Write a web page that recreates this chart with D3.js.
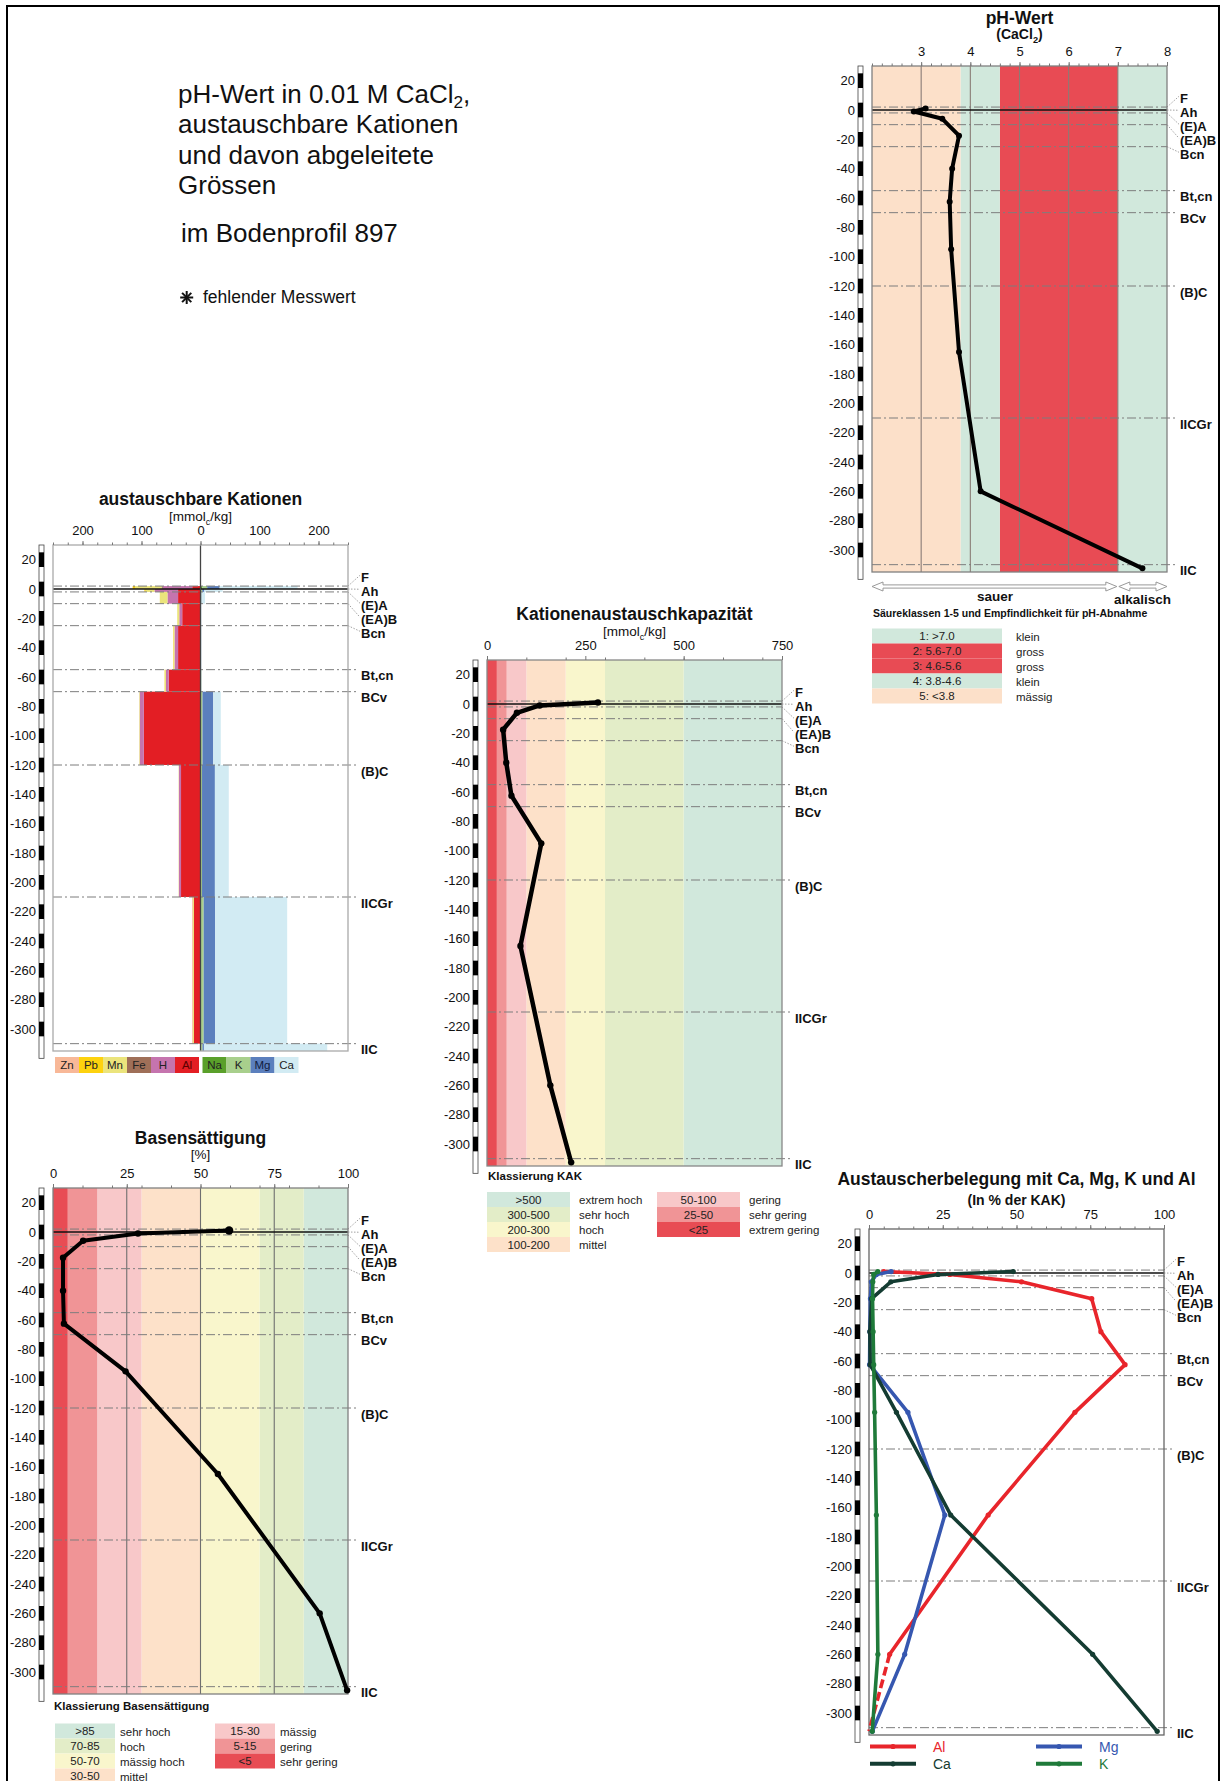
<!DOCTYPE html>
<html>
<head>
<meta charset="utf-8">
<script src="https://cdn.jsdelivr.net/npm/d3@7"></script>
<style>
  body { margin: 0; background: #fff; }
  svg { display: block; font-family: 'Liberation Sans', Arial, Helvetica, sans-serif; }
</style>
</head>
<body>
<div id="chart"></div>
<script>
// horizons of soil profile 897 (depth in cm, surface = 0)
let horizons = ['F', 'Ah', '(E)A', '(EA)B', 'Bcn', 'Bt,cn', 'BCv', '(B)C', 'IICGr', 'IIC'];
let horizon_top = [2, 0, -2, -10, -25, -55, -70, -120, -210, -310];
let horizon_bottom = [0, -2, -10, -25, -55, -70, -120, -210, -310, -315];
let depth_ticks = [20, 0, -20, -40, -60, -80, -100, -120, -140, -160, -180, -200, -220, -240, -260, -280, -300];

// measured values per horizon
let ph_values = [3.09, 2.85, 3.43, 3.77, 3.63, 3.58, 3.61, 3.77, 4.21, 7.5];
let kak_values = [282, 134, 76, 41, 49, 62, 138, 85, 161, 214];
let base_saturation = [59.7, 28.8, 10.2, 3.4, 3.4, 3.7, 24.6, 55.9, 90.4, 99.7];

// exchangeable cations [mmol_c/kg]
let cat_zn = [0, 0, 0, 0, 0, 0, 0, 0, 1.2, 0];
let cat_pb = [4, 2, 0, 0, 0.5, 0.5, 0, 0, 0, 0];
let cat_mn = [45, 15, 13, 3.5, 2, 2, 1, 0.5, 2.2, 0];
let cat_fe = [2, 0, 0, 0, 0, 0, 0, 0, 0, 0];
let cat_h = [50, 40, 18, 5, 6, 4.5, 7, 3.6, 0, 0];
let cat_al = [14, 38, 38, 31, 38, 54, 96, 33, 11, 0];
let cat_na = [3, 1, 0.5, 0.3, 0.3, 0.3, 0.6, 0.5, 0.7, 1];
let cat_k = [8.5, 2, 1, 0.5, 0.6, 1, 2.8, 2.1, 4.7, 2.4];
let cat_mg = [21, 3.5, 0.6, 0.2, 0.2, 0.2, 18.2, 21.8, 19.5, 2.4];
let cat_ca = [132, 31, 5.6, 0.4, 0.3, 0.4, 12.8, 23.5, 122, 209];

// exchanger occupation [% of KAK], null = missing value
let pct_al = [5, 27.4, 51.7, 75.5, 78.6, 86.8, 69.8, 40.4, 7, null];
let pct_ca = [48.9, 23.4, 7.4, 0.9, 0.3, 0.4, 9.3, 27.7, 75.8, 97.7];
let pct_mg = [7.5, 2.5, 0.8, 0.5, 0.3, 0.2, 13.2, 25.7, 12.1, 1.1];
let pct_k = [3.0, 1.6, 1.3, 1.2, 1.4, 1.6, 1.9, 2.5, 3.0, 1.1];

// classes
let ph_class_from = [7.0, 5.6, 4.6, 3.8, 2];
let ph_class_to = [8, 7.0, 5.6, 4.6, 3.8];
let ph_class_labels = ['1:  >7.0', '2:  5.6-7.0', '3:  4.6-5.6', '4:  3.8-4.6', '5:  <3.8'];
let ph_class_names = ['klein', 'gross', 'gross', 'klein', 'mässig'];

let kak_class_from = [500, 300, 200, 100, 50, 25, 0];
let kak_class_to = [750, 500, 300, 200, 100, 50, 25];
let kak_class_labels = ['>500', '300-500', '200-300', '100-200', '50-100', '25-50', '<25'];
let kak_class_names = ['extrem hoch', 'sehr hoch', 'hoch', 'mittel', 'gering', 'sehr gering', 'extrem gering'];

let bs_class_from = [85, 70, 50, 30, 15, 5, 0];
let bs_class_to = [100, 85, 70, 50, 30, 15, 5];
let bs_class_labels = ['>85', '70-85', '50-70', '30-50', '15-30', '5-15', '<5'];
let bs_class_names = ['sehr hoch', 'hoch', 'mässig hoch', 'mittel', 'mässig', 'gering', 'sehr gering'];

// axis tick labels
let ph_ticks = [3, 4, 5, 6, 7, 8];
let cat_ticks = [-200, -100, 0, 100, 200];
let kak_ticks = [0, 250, 500, 750];
let pct_ticks = [0, 25, 50, 75, 100];

// styles
let class_colors = ['#d1e8dc', '#e3edc8', '#f9f6cc', '#fde1c9', '#f8c8c9', '#f09496', '#e84c54'];
let ph_colors = ['#d1e8dc', '#e84b54', '#e84b54', '#d1e8dc', '#fce0c9'];
let cat_keys = ['Al', 'H', 'Fe', 'Mn', 'Pb', 'Zn', 'Na', 'K', 'Mg', 'Ca'];
let cat_colors = {
  Zn: '#f8b898', Pb: '#fdd20e', Mn: '#ebe47c', Fe: '#9f6f58', H: '#c574ae',
  Al: '#e31e24', Na: '#5aa02a', K: '#a8cf8c', Mg: '#5b7fbd', Ca: '#d2ebf3'
};

let plot_width = 295;
let plot_height = 506;
let sample_depth = horizon_top.map((d, i) => (d + horizon_bottom[i]) / 2);

let svg = d3
  .select('#chart')
  .append('svg')
  .attr('width', 1220)
  .attr('height', 1781);

//outer frame
svg
  .append('rect')
  .attr('x', 7)
  .attr('y', 6)
  .attr('width', 1212)
  .attr('height', 1800)
  .attr('fill', 'none')
  .attr('stroke', '#000')
  .attr('stroke-width', 2);

// text with subscripts, parts starting with "_" are lowered
function rich_text(sel, parts, size, drop) {
  let shift = 0;
  let d = drop || 0.3;
  parts.forEach(p => {
    let sub = p[0] === '_';
    let t = sel.append('tspan').text(sub ? p.slice(1) : p);
    if (sub) {
      t.attr('font-size', size * 0.66).attr('dy', size * d);
      shift = size * d;
    } else if (shift) {
      t.attr('dy', -shift);
      shift = 0;
    }
  });
  return sel;
}

//main title
let title_lines = [
  ['pH-Wert in 0.01 M CaCl', '_2', ','],
  ['austauschbare Kationen'],
  ['und davon abgeleitete'],
  ['Grössen']
];
title_lines.forEach((l, i) => {
  rich_text(
    svg
      .append('text')
      .attr('x', 178)
      .attr('y', 103 + i * 30.3)
      .attr('font-size', 26)
      .attr('fill', '#111'),
    l,
    26,
    0.2
  );
});
svg
  .append('text')
  .attr('x', 181)
  .attr('y', 242)
  .attr('font-size', 26)
  .attr('fill', '#111')
  .text('im Bodenprofil 897');

//missing value star
[0, 45, 90, 135].forEach(a => {
  let r = 6.5;
  let c = Math.cos((a * Math.PI) / 180) * r;
  let s = Math.sin((a * Math.PI) / 180) * r;
  svg
    .append('line')
    .attr('x1', 186.7 - c)
    .attr('y1', 297.5 - s)
    .attr('x2', 186.7 + c)
    .attr('y2', 297.5 + s)
    .attr('stroke', '#111')
    .attr('stroke-width', 2);
});
svg
  .append('text')
  .attr('x', 203)
  .attr('y', 303)
  .attr('font-size', 17.5)
  .attr('fill', '#111')
  .text('fehlender Messwert');

function make_panel(left, top, domain) {
  let x = d3.scaleLinear().domain(domain).range([left, left + plot_width]);
  let y = d3.scaleLinear().domain([30, -315]).range([top, top + plot_height]);
  return {
    g: svg.append('g'),
    x: x,
    y: y,
    left: left,
    top: top,
    right: left + plot_width,
    bottom: top + plot_height
  };
}

function add_titles(pn, title, title_dy, sub, sub_dy, sub_bold) {
  let cx = (pn.left + pn.right) / 2;
  pn.g
    .append('text')
    .attr('x', cx)
    .attr('y', pn.top - title_dy)
    .attr('text-anchor', 'middle')
    .attr('font-size', 17.5)
    .attr('font-weight', 'bold')
    .attr('fill', '#111')
    .text(title);
  rich_text(
    pn.g
      .append('text')
      .attr('x', cx)
      .attr('y', pn.top - sub_dy)
      .attr('text-anchor', 'middle')
      .attr('font-size', sub_bold ? 14 : 13.5)
      .attr('font-weight', sub_bold ? 'bold' : 'normal')
      .attr('fill', '#111'),
    sub,
    sub_bold ? 14 : 13.5
  );
}

function draw_bands(pn, from, to, colors) {
  pn.g
    .append('g')
    .selectAll('rect')
    .data(from)
    .enter()
    .append('rect')
    .attr('x', d => pn.x(d))
    .attr('y', pn.top)
    .attr('width', (d, i) => pn.x(to[i]) - pn.x(d))
    .attr('height', plot_height)
    .attr('fill', (d, i) => colors[i]);
}

function draw_grid(pn, values, color) {
  pn.g
    .append('g')
    .selectAll('line')
    .data(values)
    .enter()
    .append('line')
    .attr('x1', d => pn.x(d))
    .attr('x2', d => pn.x(d))
    .attr('y1', pn.top)
    .attr('y2', pn.bottom)
    .attr('stroke', color)
    .attr('stroke-width', 1.1);
}

// push crowded labels apart around the mean of their ideal positions
function spread_labels(ideal, gap) {
  let groups = [];
  ideal.forEach(v => {
    groups.push({ sum: v, n: 1 });
    while (groups.length > 1) {
      let b = groups[groups.length - 1];
      let a = groups[groups.length - 2];
      let a_end = a.sum / a.n + ((a.n - 1) * gap) / 2;
      let b_start = b.sum / b.n - ((b.n - 1) * gap) / 2;
      if (b_start - a_end >= gap) break;
      groups.pop();
      a.sum += b.sum;
      a.n += b.n;
    }
  });
  let out = [];
  groups.forEach(gr => {
    let c = gr.sum / gr.n;
    for (let k = 0; k < gr.n; k++) out.push(c + (k - (gr.n - 1) / 2) * gap);
  });
  return out;
}

function draw_horizons(pn) {
  let ideal = horizon_top.map(d => pn.y(d) + 6);
  let pos = spread_labels(ideal, 14);
  let hg = pn.g.append('g');
  horizon_top.forEach((d, i) => {
    let ly = pn.y(d);
    let moved = Math.abs(pos[i] - ideal[i]) > 1.5;
    hg.append('line')
      .attr('x1', pn.left)
      .attr('x2', moved || d === 0 ? pn.right : pn.right + 11)
      .attr('y1', ly)
      .attr('y2', ly)
      .attr('stroke', d === 0 ? '#111' : '#7d7d7d')
      .attr('stroke-width', d === 0 ? 1.4 : 1)
      .attr('stroke-dasharray', d === 0 ? null : '9,3,2,3');
    if (moved) {
      hg.append('line')
        .attr('x1', pn.right)
        .attr('y1', ly)
        .attr('x2', pn.right + 12)
        .attr('y2', pos[i] - 2)
        .attr('stroke', '#8a8a8a')
        .attr('stroke-width', 0.8)
        .attr('stroke-dasharray', '1.5,1.5');
    }
    hg.append('text')
      .attr('x', pn.right + 13)
      .attr('y', pos[i])
      .attr('dy', '0.36em')
      .attr('font-size', 13)
      .attr('font-weight', 'bold')
      .attr('fill', '#111')
      .text(horizons[i]);
  });
}

function draw_frame(pn, ticks, minor, fmt, border) {
  pn.g
    .append('rect')
    .attr('x', pn.left)
    .attr('y', pn.top)
    .attr('width', plot_width)
    .attr('height', plot_height)
    .attr('fill', 'none')
    .attr('stroke', border)
    .attr('stroke-width', 1.3);

  let minor_axis = d3
    .axisTop(pn.x)
    .tickValues(minor)
    .tickSize(2.5)
    .tickSizeOuter(0)
    .tickFormat('');
  let major_axis = d3
    .axisTop(pn.x)
    .tickValues(ticks)
    .tickSize(4)
    .tickSizeOuter(0)
    .tickPadding(6)
    .tickFormat(fmt);
  let ag = pn.g.append('g');
  ag.append('g')
    .attr('transform', 'translate(0,' + pn.top + ')')
    .call(minor_axis);
  ag.append('g')
    .attr('transform', 'translate(0,' + pn.top + ')')
    .call(major_axis);
  ag.selectAll('.domain').remove();
  ag.selectAll('line').attr('stroke', '#777');
  ag.selectAll('text')
    .attr('font-size', 13)
    .attr('font-family', null)
    .attr('fill', '#111');

  //depth ruler
  let rx = pn.left - 14;
  pn.g
    .append('rect')
    .attr('x', rx)
    .attr('y', pn.y(30))
    .attr('width', 5)
    .attr('height', pn.y(-320) - pn.y(30))
    .attr('fill', '#fff')
    .attr('stroke', '#444')
    .attr('stroke-width', 0.8);
  pn.g
    .append('g')
    .selectAll('rect')
    .data(depth_ticks)
    .enter()
    .append('rect')
    .attr('x', rx)
    .attr('y', d => pn.y(d + 5))
    .attr('width', 5)
    .attr('height', d => pn.y(d - 5) - pn.y(d + 5))
    .attr('fill', '#000');
  pn.g
    .append('g')
    .selectAll('text')
    .data(depth_ticks)
    .enter()
    .append('text')
    .attr('x', pn.left - 17)
    .attr('y', d => pn.y(d))
    .attr('dy', '0.36em')
    .attr('text-anchor', 'end')
    .attr('font-size', 13)
    .attr('fill', '#111')
    .text(d => d);
}

function draw_profile(pn, values, width, r) {
  let pts = values.map((v, i) => ({ v: v, depth: sample_depth[i] }));
  let line = d3
    .line()
    .x(d => pn.x(d.v))
    .y(d => pn.y(d.depth));
  pn.g
    .append('path')
    .datum(pts)
    .attr('d', line)
    .attr('fill', 'none')
    .attr('stroke', '#000')
    .attr('stroke-width', width)
    .attr('stroke-linejoin', 'round')
    .attr('stroke-linecap', 'round');
  pn.g
    .append('g')
    .selectAll('circle')
    .data(pts)
    .enter()
    .append('circle')
    .attr('cx', d => pn.x(d.v))
    .attr('cy', d => pn.y(d.depth))
    .attr('r', r)
    .attr('fill', '#000');
}

function draw_class_legend(pn, labels, names, colors, opt) {
  let lg = pn.g.append('g');
  lg.append('text')
    .attr('x', pn.left + 1)
    .attr('y', pn.bottom + opt.title_dy)
    .attr('font-size', opt.title_size)
    .attr('font-weight', 'bold')
    .attr('fill', '#111')
    .text(opt.title);
  labels.forEach((l, i) => {
    let col = i < opt.per_col ? 0 : 1;
    let row = col === 0 ? i : i - opt.per_col;
    let bx = pn.left + opt.box_x + col * opt.col_step;
    let by = pn.bottom + opt.rows_dy + row * 15;
    lg.append('rect')
      .attr('x', bx)
      .attr('y', by)
      .attr('width', opt.box_w)
      .attr('height', 15)
      .attr('fill', colors[i]);
    lg.append('text')
      .attr('x', bx + opt.box_w / 2)
      .attr('y', by + 11.5)
      .attr('text-anchor', 'middle')
      .attr('font-size', 11.5)
      .attr('fill', '#222')
      .text(l);
    lg.append('text')
      .attr('x', bx + opt.name_dx)
      .attr('y', by + 12)
      .attr('font-size', 11.5)
      .attr('fill', '#222')
      .text(names[i]);
  });
}

//pH panel
let ph = make_panel(872, 66, [2, 8]);
draw_bands(ph, ph_class_from, ph_class_to, ph_colors);
draw_grid(ph, ph_ticks.slice(0, 5), '#8a7c76');
draw_horizons(ph);
draw_frame(ph, ph_ticks, d3.range(2, 8.01, 0.2), d => d, '#808080');
add_titles(ph, 'pH-Wert', 42.5, ['(CaCl', '_2', ')'], 27, true);
draw_profile(ph, ph_values, 4, 3);

//acid / alkaline arrows
function hollow_arrow(x1, x2, y) {
  let p = d3.path();
  p.moveTo(x1, y);
  p.lineTo(x1 + 11, y - 4.5);
  p.lineTo(x1 + 11, y - 1.6);
  p.lineTo(x2 - 11, y - 1.6);
  p.lineTo(x2 - 11, y - 4.5);
  p.lineTo(x2, y);
  p.lineTo(x2 - 11, y + 4.5);
  p.lineTo(x2 - 11, y + 1.6);
  p.lineTo(x1 + 11, y + 1.6);
  p.lineTo(x1 + 11, y + 4.5);
  p.closePath();
  ph.g
    .append('path')
    .attr('d', p.toString())
    .attr('fill', '#fff')
    .attr('stroke', '#999')
    .attr('stroke-width', 1);
}
hollow_arrow(ph.x(2), ph.x(7) - 1, ph.bottom + 14.5);
hollow_arrow(ph.x(7) + 1, ph.x(8), ph.bottom + 14.5);
ph.g
  .append('text')
  .attr('x', ph.x(4.5))
  .attr('y', ph.bottom + 29)
  .attr('text-anchor', 'middle')
  .attr('font-size', 13.5)
  .attr('font-weight', 'bold')
  .attr('fill', '#111')
  .text('sauer');
ph.g
  .append('text')
  .attr('x', ph.x(7.5))
  .attr('y', ph.bottom + 31.5)
  .attr('text-anchor', 'middle')
  .attr('font-size', 13.5)
  .attr('font-weight', 'bold')
  .attr('fill', '#111')
  .text('alkalisch');
draw_class_legend(ph, ph_class_labels, ph_class_names, ph_colors, {
  title: 'Säureklassen 1-5 und Empfindlichkeit für pH-Abnahme',
  title_size: 10.5,
  title_dy: 45,
  rows_dy: 56.5,
  per_col: 5,
  box_x: 0,
  box_w: 130,
  col_step: 0,
  name_dx: 144
});

//cation panel
let cat = make_panel(53, 545, [-250, 250]);
let cat_rows = horizons.map((h, i) => ({
  Al: -cat_al[i],
  H: -cat_h[i],
  Fe: -cat_fe[i],
  Mn: -cat_mn[i],
  Pb: -cat_pb[i],
  Zn: -cat_zn[i],
  Na: cat_na[i],
  K: cat_k[i],
  Mg: cat_mg[i],
  Ca: cat_ca[i]
}));
let cat_series = d3
  .stack()
  .keys(cat_keys)
  .offset(d3.stackOffsetDiverging)(cat_rows);
cat.g
  .append('g')
  .selectAll('g')
  .data(cat_series)
  .enter()
  .append('g')
  .attr('fill', d => cat_colors[d.key])
  .selectAll('rect')
  .data(d => d)
  .enter()
  .append('rect')
  .attr('x', d => cat.x(Math.min(d[0], d[1])))
  .attr('width', d => Math.abs(cat.x(d[1]) - cat.x(d[0])))
  .attr('y', (d, i) => cat.y(horizon_top[i]))
  .attr('height', (d, i) => cat.y(horizon_bottom[i]) - cat.y(horizon_top[i]));
draw_horizons(cat);
cat.g
  .append('line')
  .attr('x1', cat.x(0))
  .attr('x2', cat.x(0))
  .attr('y1', cat.top)
  .attr('y2', cat.bottom)
  .attr('stroke', '#444')
  .attr('stroke-width', 1.3);
draw_frame(cat, cat_ticks, d3.range(-250, 251, 25), d => Math.abs(d), '#aaa');
add_titles(cat, 'austauschbare Kationen', 40, ['[mmol', '_c', '/kg]'], 24, false);

//cation legend
let cat_left_keys = ['Zn', 'Pb', 'Mn', 'Fe', 'H', 'Al'];
let cat_right_keys = ['Na', 'K', 'Mg', 'Ca'];
let legend_keys = cat_left_keys.concat(cat_right_keys);
cat.g
  .append('g')
  .selectAll('g')
  .data(legend_keys)
  .enter()
  .append('g')
  .attr('transform', (d, i) => {
    let bx = i < 6 ? cat.x(0) - 1.5 - (6 - i) * 24 : cat.x(0) + 2 + (i - 6) * 24;
    return 'translate(' + bx + ',' + (cat.bottom + 6) + ')';
  })
  .call(g => {
    g.append('rect')
      .attr('width', 24)
      .attr('height', 16)
      .attr('fill', d => cat_colors[d]);
    g.append('text')
      .attr('x', 12)
      .attr('y', 12)
      .attr('text-anchor', 'middle')
      .attr('font-size', 11.5)
      .attr('fill', d => (d === 'Al' ? '#5a0000' : d === 'Mg' ? '#101c40' : '#222'))
      .text(d => d);
  });

//KAK panel
let kak = make_panel(487, 660, [0, 750]);
draw_bands(kak, kak_class_from, kak_class_to, class_colors);
draw_horizons(kak);
draw_frame(kak, kak_ticks, d3.range(0, 751, 100), d => d, '#888');
add_titles(kak, 'Kationenaustauschkapazität', 40, ['[mmol', '_c', '/kg]'], 24, false);
draw_profile(kak, kak_values, 4.5, 3.2);
draw_class_legend(kak, kak_class_labels, kak_class_names, class_colors, {
  title: 'Klassierung KAK',
  title_size: 11.5,
  title_dy: 14,
  rows_dy: 26,
  per_col: 4,
  box_x: 0,
  box_w: 83,
  col_step: 170,
  name_dx: 92
});

//base saturation panel
let bs = make_panel(53, 1188, [0, 100]);
draw_bands(bs, bs_class_from, bs_class_to, class_colors);
draw_grid(bs, [25, 50, 75], '#6f6f6f');
draw_horizons(bs);
draw_frame(bs, pct_ticks, d3.range(0, 101, 10).concat([25, 75]), d => d, '#808080');
add_titles(bs, 'Basensättigung', 44.5, ['[%]'], 29.5, false);
draw_profile(bs, base_saturation, 4, 3.2);
bs.g
  .append('circle')
  .attr('cx', bs.x(base_saturation[0]))
  .attr('cy', bs.y(sample_depth[0]))
  .attr('r', 4.2)
  .attr('fill', '#000');
draw_class_legend(bs, bs_class_labels, bs_class_names, class_colors, {
  title: 'Klassierung Basensättigung',
  title_size: 11.5,
  title_dy: 16,
  rows_dy: 29.5,
  per_col: 4,
  box_x: 2,
  box_w: 60,
  col_step: 160,
  name_dx: 65
});

//exchanger occupation panel
let ex = make_panel(869, 1229, [0, 100]);
draw_horizons(ex);
draw_frame(ex, pct_ticks, d3.range(0, 101, 5), d => d, '#666');

let ex_series = [
  { name: 'Al', values: pct_al, color: '#e8252b' },
  { name: 'Mg', values: pct_mg, color: '#3657b0' },
  { name: 'Ca', values: pct_ca, color: '#143c32' },
  { name: 'K', values: pct_k, color: '#1f7a3a' }
];
let ex_line = d3
  .line()
  .defined(d => d.v !== null)
  .x(d => ex.x(d.v))
  .y(d => ex.y(d.depth));
ex_series.forEach(s => {
  let pts = s.values.map((v, i) => ({ v: v, depth: sample_depth[i] }));
  ex.g
    .append('path')
    .datum(pts)
    .attr('d', ex_line)
    .attr('fill', 'none')
    .attr('stroke', s.color)
    .attr('stroke-width', 3.6)
    .attr('stroke-linejoin', 'round');
  //missing value: dashed to zero
  let last = pts[pts.length - 1];
  if (last.v === null) {
    let prev = pts.filter(d => d.v !== null).pop();
    ex.g
      .append('line')
      .attr('x1', ex.x(prev.v))
      .attr('y1', ex.y(prev.depth))
      .attr('x2', ex.x(0))
      .attr('y2', ex.y(last.depth))
      .attr('stroke', s.color)
      .attr('stroke-width', 3.6)
      .attr('stroke-dasharray', '9,4');
  }
  ex.g
    .append('g')
    .selectAll('circle')
    .data(pts.filter(d => d.v !== null))
    .enter()
    .append('circle')
    .attr('cx', d => ex.x(d.v))
    .attr('cy', d => ex.y(d.depth))
    .attr('r', 2.6)
    .attr('fill', s.color);
});
add_titles(ex, 'Austauscherbelegung mit Ca, Mg, K und Al', 44, ['(In % der KAK)'], 24, true);

//exchanger legend
let ex_legend_order = ['Al', 'Ca', 'Mg', 'K'];
ex_legend_order.forEach((n, i) => {
  let s = ex_series.find(d => d.name === n);
  let lx = ex.left + 1 + Math.floor(i / 2) * 166;
  let ly = ex.bottom + 11.5 + (i % 2) * 17.3;
  ex.g
    .append('line')
    .attr('x1', lx)
    .attr('x2', lx + 46)
    .attr('y1', ly)
    .attr('y2', ly)
    .attr('stroke', s.color)
    .attr('stroke-width', 4);
  ex.g
    .append('circle')
    .attr('cx', lx + 23)
    .attr('cy', ly)
    .attr('r', 2.6)
    .attr('fill', s.color);
  ex.g
    .append('text')
    .attr('x', lx + 63)
    .attr('y', ly + 5)
    .attr('font-size', 14)
    .attr('fill', s.color)
    .text(n);
});
</script>
</body>
</html>
